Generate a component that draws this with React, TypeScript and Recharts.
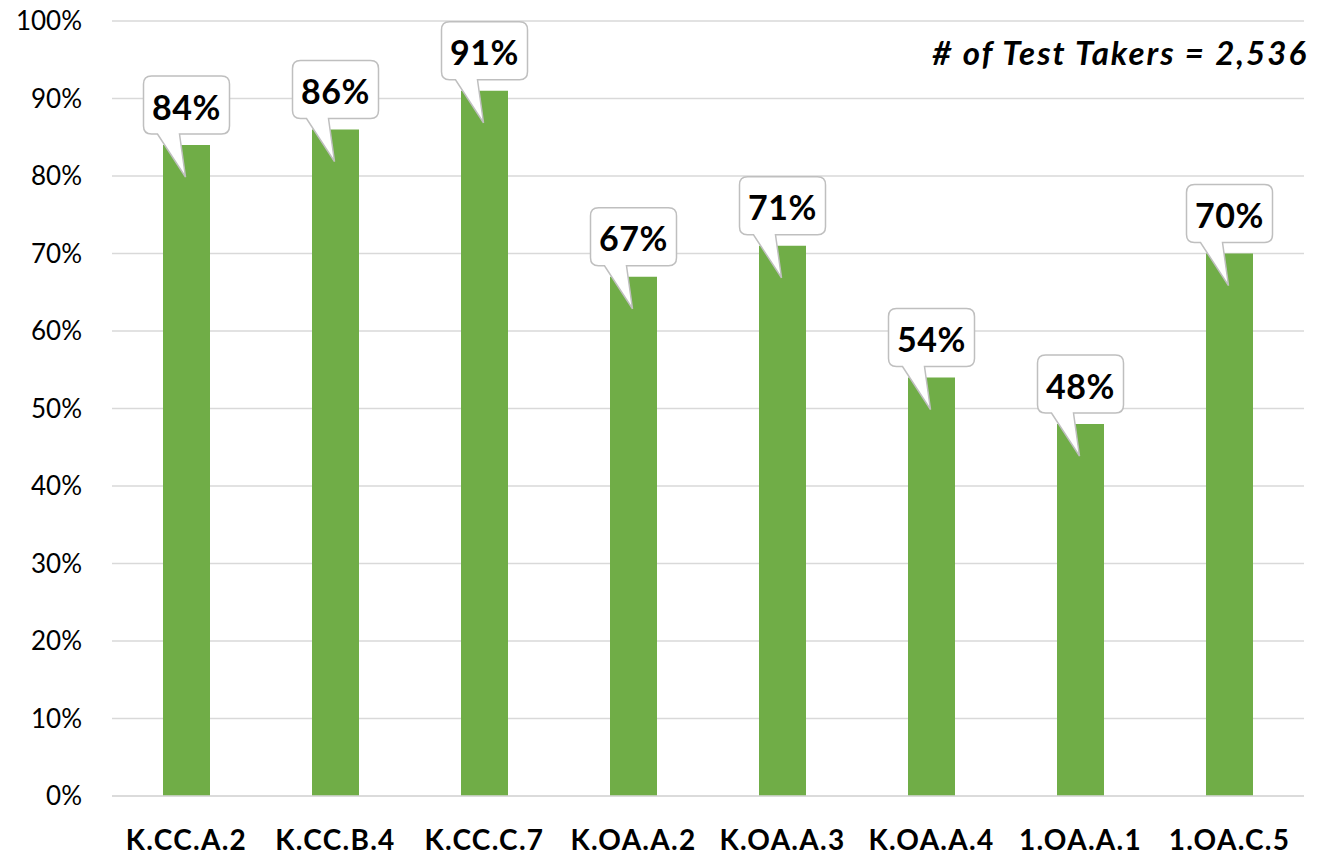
// PassRateChart — bar chart of percent correct by standard, with callout labels
import { BarChart, Bar, XAxis, YAxis, CartesianGrid, LabelList } from 'recharts'

const standards = ['K.CC.A.2', 'K.CC.B.4', 'K.CC.C.7', 'K.OA.A.2', 'K.OA.A.3', 'K.OA.A.4', '1.OA.A.1', '1.OA.C.5']
const percentCorrect = [84, 86, 91, 67, 71, 54, 48, 70]
const yTicks = [0, 10, 20, 30, 40, 50, 60, 70, 80, 90, 100]
const testTakers = '2,536'

const data = standards.map((s, i) => ({ standard: s, pct: percentCorrect[i] }))

const FONT = 'Lato, "Open Sans", sans-serif'

function Callout(props: any) {
  const { x, y, width, value } = props
  const cx = x + width / 2
  const w = 86
  const h = 58
  const r = 8
  const bottom = y - 11
  const top = bottom - h
  const left = cx - w / 2
  const right = cx + w / 2
  const tailL = cx - 29
  const tailR = cx - 7
  const tipX = cx - 1
  const tipY = y + 32
  const d = [
    `M ${left + r} ${top}`,
    `L ${right - r} ${top}`,
    `Q ${right} ${top} ${right} ${top + r}`,
    `L ${right} ${bottom - r}`,
    `Q ${right} ${bottom} ${right - r} ${bottom}`,
    `L ${tailR} ${bottom}`,
    `L ${tipX} ${tipY}`,
    `L ${tailL} ${bottom}`,
    `L ${left + r} ${bottom}`,
    `Q ${left} ${bottom} ${left} ${bottom - r}`,
    `L ${left} ${top + r}`,
    `Q ${left} ${top} ${left + r} ${top}`,
    'Z',
  ].join(' ')
  return (
    <g>
      <path d={d} fill="#fff" stroke="#bfbfbf" strokeWidth={1.5} />
      <text
        x={cx}
        y={top + h / 2 + 1}
        textAnchor="middle"
        dominantBaseline="central"
        fontFamily={FONT}
        fontWeight={700}
        fontSize={34}
        letterSpacing={0.5}
        fill="#000"
      >
        {value}%
      </text>
    </g>
  )
}

export default function App() {
  return (
    <div style={{ position: 'absolute', left: 0, top: 0, background: '#fff' }}>
      <BarChart
        width={1332}
        height={856}
        data={data}
        margin={{ top: 21, right: 28, left: 0, bottom: 0 }}
        barCategoryGap={0}
      >
        <CartesianGrid vertical={false} stroke="#d9d9d9" strokeWidth={1.3} />
        <XAxis
          dataKey="standard"
          axisLine={{ stroke: '#d9d9d9', strokeWidth: 1.3 }}
          tickLine={false}
          height={60}
          tickMargin={28}
          tick={{ fontSize: 28, fontWeight: 700, fill: '#000', fontFamily: FONT, letterSpacing: 1.3 }}
          interval={0}
        />
        <YAxis
          domain={[0, 100]}
          ticks={yTicks}
          tickFormatter={(v: number) => `${v}%`}
          axisLine={false}
          tickLine={false}
          width={112}
          tickSize={0}
          tickMargin={30}
          tick={{ fontSize: 26, fill: '#000', fontFamily: FONT }}
        />
        <Bar dataKey="pct" fill="#70ad47" barSize={47} isAnimationActive={false}>
          <LabelList dataKey="pct" content={<Callout />} />
        </Bar>
        <text
          x={1308}
          y={52}
          textAnchor="end"
          dominantBaseline="central"
          fontFamily={FONT}
          fontWeight={700}
          fontStyle="italic"
          fontSize={33}
          letterSpacing={2}
          fill="#000"
        >
          # of Test Takers = {testTakers}
        </text>
      </BarChart>
    </div>
  )
}
